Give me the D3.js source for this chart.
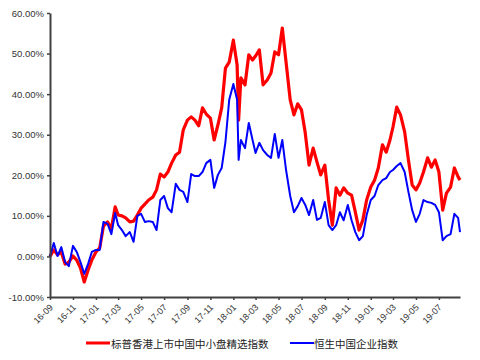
<!DOCTYPE html>
<html><head><meta charset="utf-8">
<script src="https://cdn.jsdelivr.net/npm/d3@7"></script>
<style>body{margin:0;background:#fff}svg{display:block}</style></head>
<body><svg id="c" width="480" height="360"></svg>
<script>
const dates = ["2016-09-01","2016-09-11","2016-09-21","2016-10-01","2016-10-11","2016-10-21","2016-11-01","2016-11-11","2016-11-21","2016-12-01","2016-12-11","2016-12-21",
"2017-01-01","2017-01-11","2017-01-21","2017-02-01","2017-02-11","2017-02-21","2017-03-01","2017-03-11","2017-03-21","2017-04-01","2017-04-11","2017-04-21",
"2017-05-01","2017-05-11","2017-05-21","2017-06-01","2017-06-11","2017-06-21","2017-07-01","2017-07-11","2017-07-21","2017-08-01","2017-08-11","2017-08-21",
"2017-09-01","2017-09-11","2017-09-21","2017-10-01","2017-10-11","2017-10-21","2017-11-01","2017-11-11","2017-11-21","2017-12-01","2017-12-11","2017-12-21",
"2018-01-01","2018-01-11","2018-01-15","2018-01-21","2018-02-01","2018-02-11","2018-02-21","2018-03-01","2018-03-11","2018-03-21","2018-04-01","2018-04-11","2018-04-21",
"2018-05-01","2018-05-11","2018-05-21","2018-06-01","2018-06-11","2018-06-21","2018-07-01","2018-07-11","2018-07-21","2018-08-01","2018-08-11","2018-08-21",
"2018-09-01","2018-09-11","2018-09-21","2018-10-01","2018-10-11","2018-10-21","2018-11-01","2018-11-11","2018-11-21","2018-12-01","2018-12-11","2018-12-21",
"2019-01-01","2019-01-11","2019-01-21","2019-02-01","2019-02-11","2019-02-21","2019-03-01","2019-03-11","2019-03-21","2019-04-01","2019-04-11","2019-04-21",
"2019-05-01","2019-05-11","2019-05-21","2019-06-01","2019-06-11","2019-06-21","2019-07-01","2019-07-11","2019-07-21","2019-08-01","2019-08-11","2019-08-21","2019-08-26"];

// 标普香港上市中国中小盘精选指数 (%)
const spSmallMid = [0.0,1.6,0.4,1.1,-1.9,-1.4,0.1,-0.9,-2.9,-6.3,-3.4,-0.9,
1.1,2.1,7.5,8.5,6.8,12.2,10.2,10.0,9.5,8.5,8.7,10.2,
11.9,12.9,13.9,14.6,16.4,20.3,19.6,20.8,23.0,25.0,25.7,31.2,
33.6,34.4,33.6,32.2,36.6,35.1,34.1,28.7,32.4,36.6,46.4,47.9,
53.3,47.2,33.6,44.0,42.3,49.7,48.4,49.4,50.9,42.3,43.5,45.2,50.4,
49.7,56.3,47.9,38.6,34.9,37.6,36.1,30.4,22.5,26.7,23.3,20.1,
22.5,13.9,7.7,16.9,15.1,16.9,15.6,15.1,10.9,6.5,9.0,13.9,
17.1,18.8,21.8,27.5,25.7,28.7,31.9,36.8,34.9,30.7,23.8,17.6,
16.4,18.1,20.8,24.3,22.0,23.8,20.8,11.4,15.6,17.1,21.8,19.6,18.8];

// 恒生中国企业指数 (%)
const hsce = [0.0,3.3,0.1,2.3,-1.4,-2.4,2.6,1.1,-1.4,-4.3,-1.9,1.1,
1.6,1.6,8.5,8.0,5.5,10.7,7.7,6.5,5.0,6.0,3.6,10.0,
10.5,8.5,8.7,8.5,6.5,13.9,14.9,11.9,10.9,17.9,16.4,15.9,
13.4,20.3,19.8,19.8,20.8,23.0,23.8,16.9,20.1,21.8,28.2,38.6,
42.5,38.6,23.8,28.7,26.7,32.9,28.7,25.5,28.0,26.2,25.0,24.3,30.2,
24.3,28.7,21.3,14.9,10.9,12.4,14.4,12.7,10.2,13.9,9.0,9.5,
13.4,7.7,6.5,7.7,10.9,8.9,12.7,8.9,6.0,4.0,5.0,10.2,
13.9,14.9,17.6,18.8,19.3,20.8,21.3,22.3,23.0,20.8,15.9,11.4,
8.5,10.5,13.9,13.4,13.2,12.7,10.9,4.0,5.0,5.5,10.5,9.5,6.0];

const yTicks = [-10,0,10,20,30,40,50,60];
const xTickDates = ["2016-09-01","2016-11-01","2017-01-01","2017-03-01","2017-05-01","2017-07-01","2017-09-01","2017-11-01",
"2018-01-01","2018-03-01","2018-05-01","2018-07-01","2018-09-01","2018-11-01","2019-01-01","2019-03-01","2019-05-01","2019-07-01"];
const seriesNames = ["标普香港上市中国中小盘精选指数","恒生中国企业指数"];
const seriesColors = ["#ff0000","#0000ff"];

const parse = d3.timeParse("%Y-%m-%d");
const fmtX = d3.timeFormat("%y-%m");
const svg = d3.select("#c");
const L = 50, R = 460, T = 13, B = 297;

const x = d3.scaleTime().domain([parse(dates[0]), parse(dates[dates.length-1])]).range([L, R]);
const y = d3.scaleLinear().domain([-10, 60]).range([B, T]);

const lineGen = d3.line().x((d,i)=>x(parse(dates[i]))).y(d=>y(d));

svg.append("path").datum(spSmallMid).attr("d", lineGen)
  .attr("fill","none").attr("stroke",seriesColors[0]).attr("stroke-width",3.2).attr("stroke-linejoin","round");
svg.append("path").datum(hsce).attr("d", lineGen)
  .attr("fill","none").attr("stroke",seriesColors[1]).attr("stroke-width",2).attr("stroke-linejoin","round");

const yAxis = d3.axisLeft(y).tickValues(yTicks).tickSize(3).tickSizeOuter(0)
  .tickFormat(d => d.toFixed(2) + "%");
const gy = svg.append("g").attr("transform",`translate(${L},0)`).call(yAxis);
gy.select(".domain").attr("stroke","#404040").attr("stroke-width",2);
gy.selectAll(".tick line").attr("stroke","#404040").attr("stroke-width",1.5);
gy.selectAll(".tick text").attr("font-family","Liberation Sans, Arial, sans-serif").attr("font-size",9.5).attr("fill","#333").attr("x",-6);

const xAxis = d3.axisBottom(x).tickValues(xTickDates.map(parse)).tickSize(3).tickSizeOuter(0).tickFormat(fmtX);
const gx = svg.append("g").attr("transform",`translate(0,${B})`).call(xAxis);
gx.select(".domain").attr("stroke","#404040").attr("stroke-width",2);
gx.selectAll(".tick line").attr("stroke","#404040").attr("stroke-width",1.5);
gx.selectAll(".tick text").attr("font-family","Liberation Sans, Arial, sans-serif").attr("font-size",9).attr("fill","#333")
  .attr("text-anchor","end").attr("dy",null).attr("y",0)
  .attr("transform","translate(3,11) rotate(-45)");

const legItems = [{x:86, tx:111}, {x:290, tx:314}];
legItems.forEach((p,i)=>{
  svg.append("line").attr("x1",p.x).attr("x2",p.x+24).attr("y1",343).attr("y2",343)
    .attr("stroke",seriesColors[i]).attr("stroke-width", i===0?3:2);
  svg.append("text").attr("x",p.tx).attr("y",347.5).text(seriesNames[i])
    .attr("font-family","Noto Sans CJK SC, sans-serif").attr("font-size",10.5).attr("fill","#222");
});
</script></body></html>
